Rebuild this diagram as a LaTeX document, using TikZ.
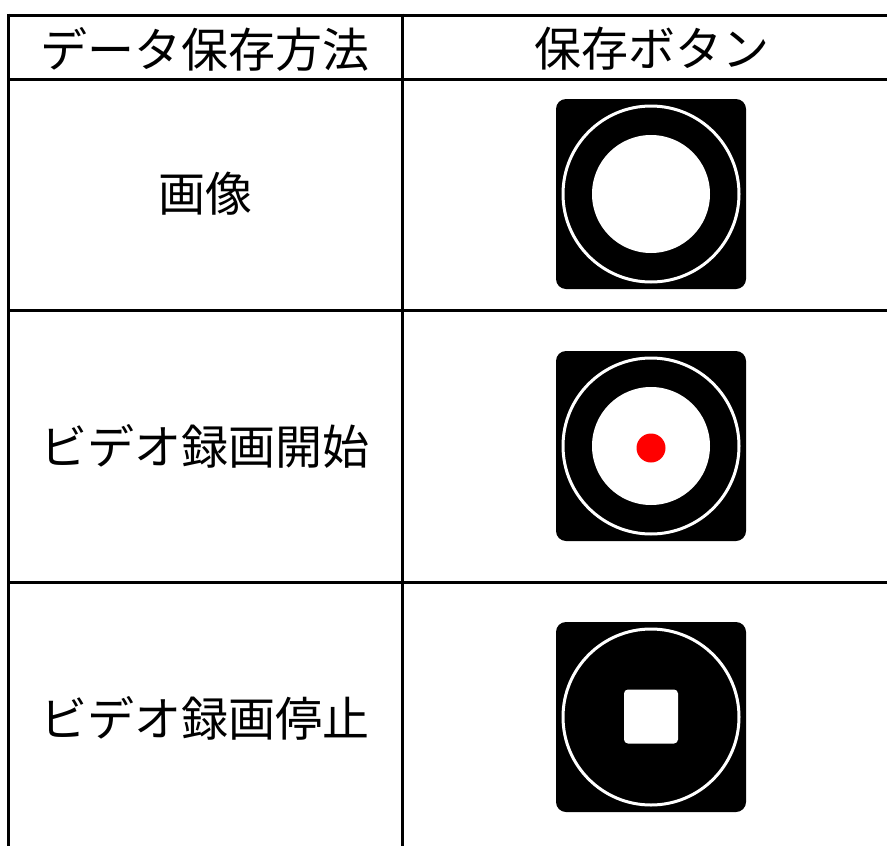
\documentclass[tikz,border=0pt]{standalone}
\usepackage{fontspec}
\newfontfamily\cjk{Noto Sans CJK JP}
\begin{document}
\begin{tikzpicture}[x=1pt,y=-1pt,
  gridline/.style={line width=3pt,black},
  celltext/.style={font=\cjk\fontsize{47}{52}\selectfont,inner sep=0pt,anchor=center},
  iconbox/.style={fill=black,rounded corners=10pt,minimum size=190pt,inner sep=0pt,draw=none},
  ring/.style={circle,draw=white,line width=3pt,minimum size=176pt,inner sep=0pt},
  whitedisk/.style={circle,fill=white,minimum size=118pt,inner sep=0pt},
  reddot/.style={circle,fill=red,minimum size=29pt,inner sep=0pt},
  stopsq/.style={fill=white,rounded corners=4pt,minimum size=54pt,inner sep=0pt}]
\useasboundingbox (0,0) rectangle (887,846);
% grid
\draw[gridline] (8.5,15) -- (890,15);
\draw[gridline] (8.5,79) -- (890,79);
\draw[gridline] (8.5,310) -- (890,310);
\draw[gridline] (8.5,582) -- (890,582);
\draw[gridline] (8.5,13.5) -- (8.5,850);
\draw[gridline] (402,13.5) -- (402,850);
% header
\node[celltext] (h1) at (205,49) {データ保存方法};
\node[celltext] (h2) at (652,49) {保存ボタン};
% row labels
\node[celltext] (r1) at (205,194) {画像};
\node[celltext] (r2) at (205,446) {ビデオ録画開始};
\node[celltext] (r3) at (205,718) {ビデオ録画停止};
% icon 1
\node[iconbox] (i1) at (651,194) {};
\node[ring] (i1ring) at (i1.center) {};
\node[whitedisk] (i1disk) at (i1.center) {};
% icon 2
\node[iconbox] (i2) at (651,446) {};
\node[ring] (i2ring) at (i2.center) {};
\node[whitedisk] (i2disk) at (i2.center) {};
\node[reddot] (i2dot) at (651,448) {};
% icon 3
\node[iconbox] (i3) at (651,717) {};
\node[ring] (i3ring) at (i3.center) {};
\node[stopsq] (i3sq) at (651,716.5) {};
\end{tikzpicture}
\end{document}
